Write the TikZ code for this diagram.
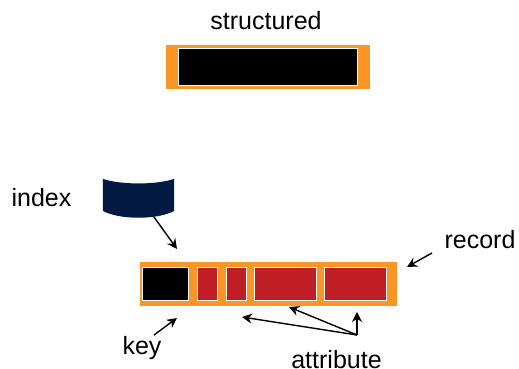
\documentclass[tikz,border=0pt]{standalone}
\usepackage{fontspec}
\setmainfont{Liberation Sans}
\usetikzlibrary{positioning,arrows.meta}

\definecolor{recordorange}{RGB}{250,150,38}
\definecolor{attrred}{RGB}{190,30,36}
\definecolor{dbnavy}{RGB}{2,26,66}

\tikzset{
    label text/.style={font=\fontsize{25}{30}\selectfont, inner sep=0pt},
    record/.style={fill=recordorange, inner sep=0pt, minimum height=44pt},
    cell/.style={draw=white, line width=1pt, inner sep=0pt, minimum height=33pt},
    attr/.style={cell, fill=attrred},
    pointer/.style={-{Stealth[length=10pt,width=10pt]}, line width=1.4pt, black},
}

\begin{document}
\begin{tikzpicture}[x=1pt, y=-1pt]
\useasboundingbox (0,0) rectangle (519,369);

\node [label text] (structured) at (266,21) {structured};
\node [record, minimum width=204pt] (top) at (268,67) {};
\node [cell, fill=black, minimum width=179pt, minimum height=36pt] (whole) at (267.5,67) {};

\node [record, minimum width=257pt] (rec) at (268.5,284) {};
\node [cell, fill=black, minimum width=46pt] (keycell) at (165.5,283.5) {};
\node [attr, minimum width=20pt, right=8pt of keycell] (a1) {};
\node [attr, minimum width=20pt, right=8pt of a1] (a2) {};
\node [attr, minimum width=62pt, right=7pt of a2] (a3) {};
\node [attr, minimum width=62pt, right=7pt of a3] (a4) {};

\node [minimum width=71pt, minimum height=38pt, inner sep=0pt] (db) at (138.5,198) {};
\fill [dbnavy] (db.north west) .. controls (120,185) and (157,185) .. (db.north east)
    -- (174,211) .. controls (157,220) and (120,220) .. (103,211) -- cycle;

\node [label text] (index) at (41.5,198) {index};
\node [label text] (recordlabel) at (480,240) {record};
\node [label text] (key) at (142,348) {key};
\node [label text] (attribute) at (336.5,360) {attribute};

\coordinate (dbtip) at (177,249);
\coordinate (dbtail) at (154,217);
\coordinate (rectail) at (432,253);
\coordinate (rectip) at (407,267);
\coordinate (keytail) at (154,335);
\coordinate (keytip) at (177,318);
\coordinate (fork) at (357,335);
\coordinate (tip1) at (242,317);
\coordinate (tip2) at (289,307);
\coordinate (tip3) at (357,312);

\draw [pointer] (dbtail) -- (dbtip);
\draw [pointer] (rectail) -- (rectip);
\draw [pointer] (keytail) -- (keytip);
\draw [pointer] (fork) -- (tip1);
\draw [pointer] (fork) -- (tip2);
\draw [pointer] (fork) -- (tip3);
\end{tikzpicture}
\end{document}
